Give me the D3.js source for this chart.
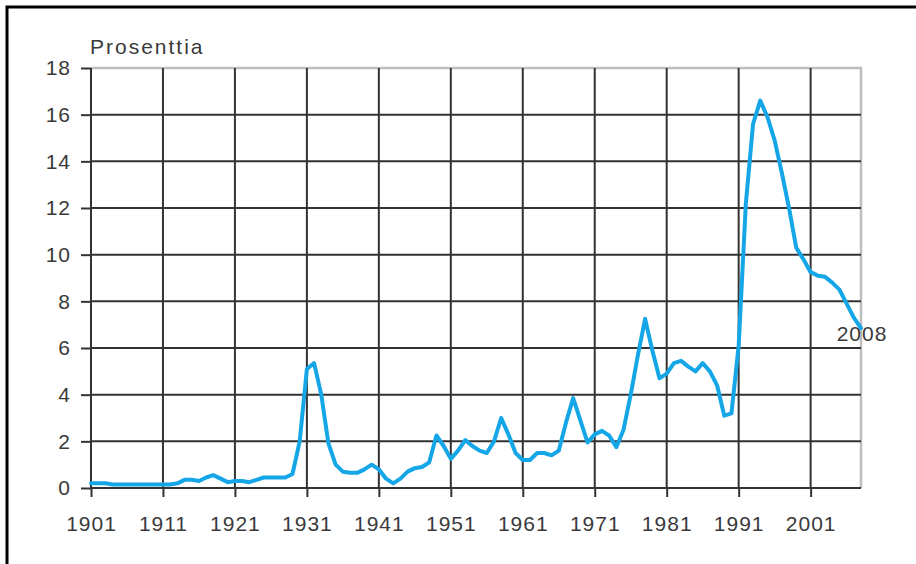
<!DOCTYPE html>
<html>
<head>
<meta charset="utf-8">
<script src="https://cdn.jsdelivr.net/npm/d3@7"></script>
<style>
  body { margin: 0; background: #fff; }
  svg { display: block; }
  .tick text, .lbl { font-family: "Liberation Sans", Arial, sans-serif; font-size: 21px; fill: #3a3a3a; letter-spacing: 1px; }
</style>
</head>
<body>
<div id="chart"></div>
<script>
var svgWidth = 916;
var svgHeight = 564;

var margin = { top: 68, right: 55, bottom: 76, left: 91 };
var width = svgWidth - margin.left - margin.right;
var height = svgHeight - margin.top - margin.bottom;

// Unemployment rate, percent, 1901-2008
var firstYear = 1901;
var rates = [
  0.2, 0.2, 0.2, 0.15, 0.15, 0.15, 0.15, 0.15, 0.15, 0.15,   // 1901-1910
  0.15, 0.15, 0.2, 0.35, 0.35, 0.3, 0.45, 0.55, 0.4, 0.25,   // 1911-1920
  0.3, 0.3, 0.25, 0.35, 0.45, 0.45, 0.45, 0.45, 0.6, 2.0,    // 1921-1930
  5.1, 5.35, 4.0, 1.9, 1.0, 0.7, 0.65, 0.65, 0.8, 1.0,       // 1931-1940
  0.8, 0.4, 0.2, 0.4, 0.7, 0.85, 0.9, 1.1, 2.25, 1.8,        // 1941-1950
  1.25, 1.6, 2.05, 1.8, 1.6, 1.5, 2.0, 3.0, 2.3, 1.5,        // 1951-1960
  1.2, 1.2, 1.5, 1.5, 1.4, 1.6, 2.8, 3.85, 2.9, 1.95,        // 1961-1970
  2.3, 2.45, 2.25, 1.75, 2.5, 4.0, 5.7, 7.25, 5.9, 4.7,      // 1971-1980
  4.9, 5.35, 5.45, 5.2, 5.0, 5.35, 5.0, 4.4, 3.1, 3.2,       // 1981-1990
  6.1, 12.2, 15.6, 16.6, 15.9, 14.9, 13.5, 12.0, 10.3, 9.8,  // 1991-2000
  9.25, 9.1, 9.05, 8.8, 8.5, 7.9, 7.3, 6.85                  // 2001-2008
];
var years = rates.map((d, i) => firstYear + i);

var xTicks = [1901, 1911, 1921, 1931, 1941, 1951, 1961, 1971, 1981, 1991, 2001];
var yTicks = [0, 2, 4, 6, 8, 10, 12, 14, 16, 18];

var data = years.map((y, i) => ({ year: y, value: rates[i] }));

var svg = d3.select("#chart")
  .append("svg")
  .attr("width", svgWidth)
  .attr("height", svgHeight);

// outer frame
svg.append("rect")
  .attr("x", 7).attr("y", 7)
  .attr("width", 930).attr("height", 580)
  .attr("fill", "#fff")
  .attr("stroke", "#000")
  .attr("stroke-width", 3);

var chartGroup = svg.append("g")
  .attr("transform", `translate(${margin.left}, ${margin.top})`);

var xScale = d3.scaleLinear()
  .domain([1901, 2008])
  .range([0, width]);

var yScale = d3.scaleLinear()
  .domain([0, 18])
  .range([height, 0]);

// plot border (top and right, light grey)
chartGroup.append("path")
  .attr("d", `M0,0H${width}V${height}`)
  .attr("fill", "none")
  .attr("stroke", "#bdbdbd")
  .attr("stroke-width", 2.5);

// grid
chartGroup.append("g")
  .selectAll("line")
  .data(yTicks.filter(d => d > 0 && d < 18))
  .enter()
  .append("line")
  .attr("x1", 0).attr("x2", width)
  .attr("y1", d => yScale(d)).attr("y2", d => yScale(d))
  .attr("stroke", "#333")
  .attr("stroke-width", 2);

chartGroup.append("g")
  .selectAll("line")
  .data(xTicks.slice(1))
  .enter()
  .append("line")
  .attr("x1", d => xScale(d)).attr("x2", d => xScale(d))
  .attr("y1", 0).attr("y2", height)
  .attr("stroke", "#333")
  .attr("stroke-width", 2);

// axes
var bottomAxis = d3.axisBottom(xScale)
  .tickValues(xTicks)
  .tickFormat(d3.format("d"))
  .tickSize(9)
  .tickPadding(19);
var leftAxis = d3.axisLeft(yScale)
  .tickValues(yTicks)
  .tickSize(10)
  .tickPadding(10);

var xAxisG = chartGroup.append("g")
  .attr("transform", `translate(0, ${height})`)
  .call(bottomAxis);
var yAxisG = chartGroup.append("g")
  .call(leftAxis);

[xAxisG, yAxisG].forEach(g => {
  g.attr("font-family", null).attr("font-size", null);
  g.select(".domain").attr("stroke", "#333").attr("stroke-width", 2);
  g.selectAll(".tick line").attr("stroke", "#333").attr("stroke-width", 2);
});
yAxisG.select(".domain").attr("d", `M0,0V${height}`);
xAxisG.select(".domain").attr("d", `M0,0H${width}`);

// series
var line = d3.line()
  .x(d => xScale(d.year))
  .y(d => yScale(d.value));

chartGroup.append("path")
  .datum(data)
  .attr("fill", "none")
  .attr("stroke", "#14a6e6")
  .attr("stroke-width", 4)
  .attr("stroke-linejoin", "round")
  .attr("stroke-linecap", "round")
  .attr("d", line);

// end label
var last = data[data.length - 1];
chartGroup.append("text")
  .attr("class", "lbl")
  .attr("x", xScale(last.year) + 1)
  .attr("y", yScale(last.value) + 13)
  .attr("text-anchor", "middle")
  .text(last.year);

// unit label
chartGroup.append("text")
  .attr("class", "lbl")
  .attr("x", -1)
  .attr("y", -14)
  .style("letter-spacing", "2px")
  .text("Prosenttia");
</script>
</body>
</html>
